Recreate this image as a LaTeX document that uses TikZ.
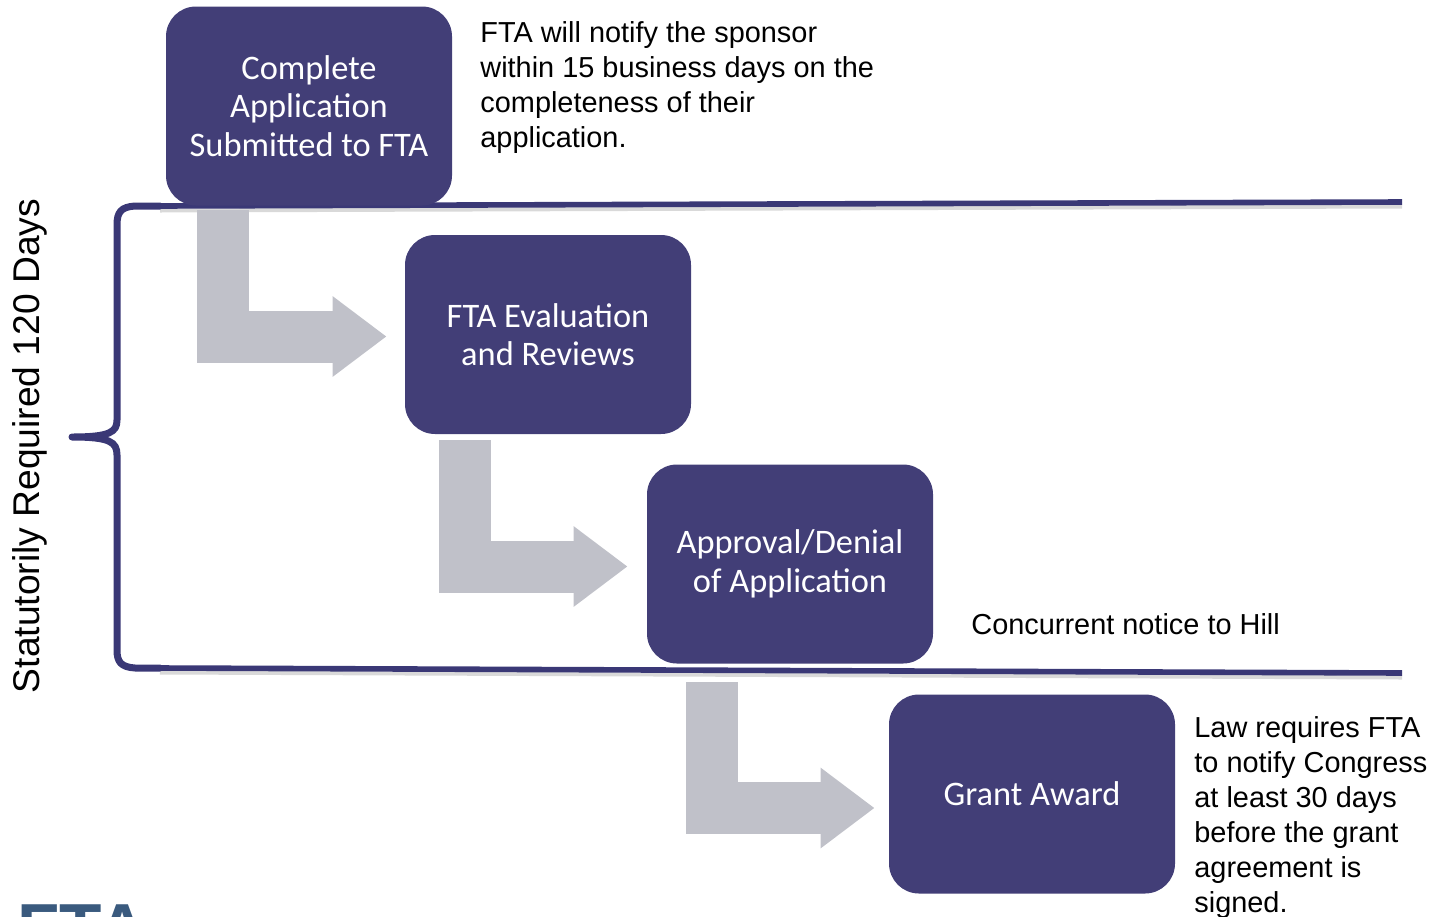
\documentclass[tikz,border=0pt]{standalone}
\usepackage{fontspec}
\setmainfont{Liberation Sans}
\newfontfamily\boxfont{Carlito}
\usetikzlibrary{arrows.meta,calc}
\definecolor{navy}{RGB}{66,62,119}
\definecolor{linenavy}{RGB}{58,56,118}
\definecolor{arrowgray}{RGB}{192,193,201}
\definecolor{logoblue}{RGB}{58,90,126}
\tikzset{
  stepbox/.style={rectangle, rounded corners=15pt, fill=navy, text=white,
    minimum width=143pt, minimum height=99.5pt, align=center, inner sep=0pt,
    font=\boxfont\fontsize{17.2}{19.3}\selectfont},
  garrow/.style={draw=arrowgray, line width=26pt, line join=miter,
    -{Triangle[width=38.5pt,length=27pt]}},
  navyline/.style={draw=linenavy, line width=2.8pt},
  shadowline/.style={draw=black!15, line width=2pt},
  bracestyle/.style={draw=linenavy, line width=3.5pt, line cap=round, line join=round},
  note/.style={inner sep=0pt, align=left, font=\fontsize{14.45}{17.5}\selectfont},
}
\begin{document}
\begin{tikzpicture}[x=0.5pt,y=-0.5pt]
\useasboundingbox (0,0) rectangle (1433,916);
% horizontal lines
\coordinate (tl) at (160,206);
\coordinate (tr) at (1402,202);
\coordinate (bl) at (160,668);
\coordinate (br) at (1402,673);
\draw[shadowline] ($(tl)+(0,4.5)$) -- ($(tr)+(0,4.5)$);
\draw[shadowline] ($(bl)+(0,4.5)$) -- ($(br)+(0,4.5)$);
\draw[navyline] (tl) -- (tr);
\draw[navyline] (bl) -- (br);
% brace
\coordinate (tip) at (72,437);
\draw[bracestyle] (tl) -- (135,206) .. controls (121,207) and (117,212) .. (117,225)
  -- (117,420) .. controls (117,432) and (110,437) .. (tip)
  .. controls (110,437) and (117,442) .. (117,455)
  -- (117,650) .. controls (117,662) and (121,667) .. (135,668) -- (bl);
\node[rotate=90, inner sep=0pt, font=\fontsize{18.6}{20}\selectfont] (lbl) at (30,446) {Statutorily Required 120 Days};
% boxes
\node[stepbox] (b1) at (309,106) {Complete\\Application\\Submitted to FTA};
\node[stepbox] (b2) at (548,334.5) {FTA Evaluation\\and Reviews};
\node[stepbox] (b3) at (790,564) {Approval/Denial\\of Application};
\node[stepbox] (b4) at (1032,794) {Grant Award};
% bent arrows
\coordinate (a1) at (223,210);
\coordinate (a2) at (465,440);
\coordinate (a3) at (712,682);
\draw[garrow] (a1) |- ($(b2.west)+(-18,2)$);
\draw[garrow] (a2) |- ($(b3.west)+(-19,2.5)$);
\draw[garrow] (a3) |- ($(b4.west)+(-14,14)$);
% notes
\node[note, anchor=north west] (n1) at (480,21) {FTA will notify the sponsor\\within 15 business days on the\\completeness of their\\application.};
\node[note, anchor=base west] (n2) at (971,634) {Concurrent notice to Hill};
\node[note, anchor=north west] (n3) at (1194,716) {Law requires FTA\\to notify Congress\\at least 30 days\\before the grant\\agreement is\\signed.};
% cropped logo (cut off at the bottom edge, as in the reference)
\node[anchor=base west, inner sep=0pt, text=logoblue, font=\bfseries\fontsize{34.7}{36}\selectfont] (logo) at (17,952) {FTA};
\end{tikzpicture}
\end{document}
